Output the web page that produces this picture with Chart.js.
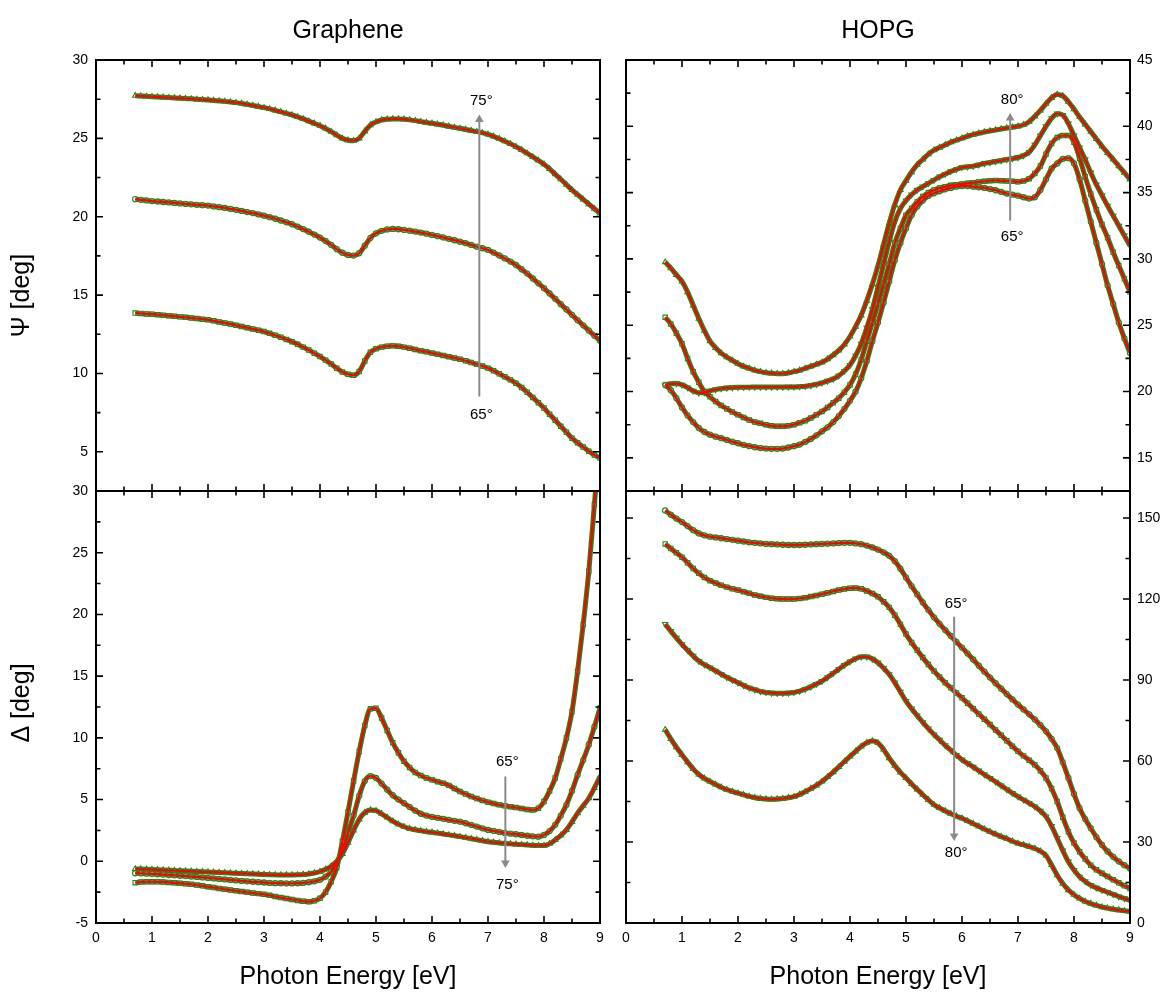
<!DOCTYPE html>
<html><head><meta charset="utf-8">
<script src="https://cdn.jsdelivr.net/npm/chart.js@4.4.1/dist/chart.umd.min.js"></script>
<style>
html,body{margin:0;padding:0;background:#fff;}
#wrap{position:relative;width:1168px;height:994px;overflow:hidden;}
#wrap canvas{position:absolute;left:0;top:0;}
</style></head><body>
<div id="wrap">
<canvas id="cGpsi" width="1168" height="994"></canvas>
<canvas id="cGdel" width="1168" height="994"></canvas>
<canvas id="cHpsi" width="1168" height="994"></canvas>
<canvas id="cHdel" width="1168" height="994"></canvas>
</div>
<script>
// ---------- data ----------
const energy = [0.7,0.8,0.9,1.0,1.1,1.2,1.3,1.4,1.5,1.6,
 1.7,1.8,1.9,2.0,2.1,2.2,2.3,2.4,2.5,2.6,
 2.7,2.8,2.9,3.0,3.1,3.2,3.3,3.4,3.5,3.6,
 3.7,3.8,3.9,4.0,4.1,4.2,4.3,4.4,4.5,4.6,
 4.7,4.8,4.9,5.0,5.1,5.2,5.3,5.4,5.5,5.6,
 5.7,5.8,5.9,6.0,6.1,6.2,6.3,6.4,6.5,6.6,
 6.7,6.8,6.9,7.0,7.1,7.2,7.3,7.4,7.5,7.6,
 7.7,7.8,7.9,8.0,8.1,8.2,8.3,8.4,8.5,8.6,
 8.7,8.8,8.9,9.0];

// Graphene Psi
const psiG75 = [27.72,27.70,27.68,27.66,27.64,27.62,27.60,27.58,27.56,27.54,
 27.52,27.49,27.47,27.45,27.42,27.39,27.36,27.32,27.28,27.23,
 27.17,27.10,27.03,26.96,26.88,26.79,26.69,26.59,26.49,26.37,
 26.24,26.10,25.96,25.81,25.63,25.43,25.20,25.00,24.88,24.85,
 25.00,25.45,25.85,26.05,26.17,26.22,26.24,26.24,26.22,26.18,
 26.13,26.07,26.01,25.96,25.90,25.84,25.77,25.70,25.64,25.57,
 25.50,25.43,25.35,25.26,25.13,24.98,24.82,24.65,24.47,24.27,
 24.05,23.82,23.59,23.35,23.05,22.72,22.39,22.05,21.71,21.41,
 21.11,20.81,20.51,20.22];
const psiG70 = [21.12,21.08,21.04,21.00,20.97,20.94,20.91,20.88,20.85,20.82,
 20.79,20.76,20.74,20.71,20.66,20.61,20.56,20.50,20.44,20.37,
 20.30,20.23,20.15,20.07,19.97,19.87,19.76,19.64,19.52,19.37,
 19.21,19.04,18.86,18.67,18.45,18.20,17.93,17.70,17.56,17.52,
 17.67,18.15,18.65,18.94,19.10,19.19,19.22,19.20,19.16,19.11,
 19.05,18.99,18.92,18.84,18.76,18.68,18.59,18.50,18.41,18.31,
 18.20,18.09,17.99,17.88,17.71,17.53,17.34,17.14,16.92,16.65,
 16.37,16.06,15.75,15.44,15.10,14.76,14.42,14.08,13.74,13.40,
 13.07,12.74,12.41,12.08];
const psiG65 = [13.85,13.83,13.80,13.78,13.75,13.72,13.68,13.65,13.61,13.58,
 13.54,13.50,13.46,13.42,13.36,13.29,13.22,13.15,13.07,12.99,
 12.92,12.84,12.76,12.67,12.56,12.44,12.31,12.17,12.03,11.86,
 11.68,11.49,11.29,11.08,10.85,10.60,10.33,10.10,9.95,9.88,
 10.12,10.80,11.35,11.57,11.68,11.74,11.76,11.73,11.68,11.61,
 11.53,11.45,11.38,11.30,11.22,11.15,11.07,10.99,10.91,10.81,
 10.70,10.59,10.47,10.34,10.17,9.98,9.79,9.59,9.38,9.10,
 8.80,8.47,8.13,7.79,7.40,7.02,6.63,6.25,5.87,5.58,
 5.30,5.04,4.80,4.60];

// Graphene Delta
const delG65 = [-1.73,-1.68,-1.65,-1.65,-1.66,-1.68,-1.71,-1.74,-1.78,-1.82,
 -1.87,-1.93,-1.99,-2.06,-2.13,-2.20,-2.27,-2.33,-2.39,-2.45,
 -2.51,-2.57,-2.62,-2.68,-2.76,-2.85,-2.94,-3.02,-3.09,-3.17,
 -3.23,-3.27,-3.20,-3.00,-2.50,-1.65,-0.50,1.60,4.00,6.50,
 8.90,11.00,12.35,12.40,11.60,10.60,9.60,8.80,8.10,7.60,
 7.20,6.95,6.75,6.60,6.45,6.33,6.15,5.90,5.65,5.45,
 5.25,5.08,4.93,4.79,4.68,4.58,4.50,4.42,4.35,4.28,
 4.20,4.16,4.30,4.84,5.70,6.74,8.30,9.98,12.14,15.39,
 19.18,23.50,28.90,34.50];
const delG70 = [-0.97,-0.98,-1.00,-1.02,-1.05,-1.08,-1.11,-1.14,-1.17,-1.20,
 -1.24,-1.27,-1.31,-1.35,-1.39,-1.43,-1.47,-1.51,-1.55,-1.59,
 -1.62,-1.66,-1.69,-1.72,-1.75,-1.77,-1.78,-1.79,-1.79,-1.78,
 -1.75,-1.70,-1.62,-1.50,-1.25,-0.85,-0.15,0.90,2.30,3.70,
 5.30,6.50,6.90,6.75,6.30,5.80,5.35,5.00,4.70,4.40,
 4.10,3.85,3.70,3.60,3.52,3.44,3.36,3.28,3.21,3.08,
 2.95,2.81,2.67,2.54,2.46,2.38,2.30,2.24,2.19,2.13,
 2.07,2.02,1.99,2.13,2.45,2.95,3.70,4.57,5.70,7.00,
 8.20,9.44,10.90,12.42];
const delG75 = [-0.62,-0.63,-0.65,-0.67,-0.69,-0.71,-0.73,-0.75,-0.77,-0.79,
 -0.81,-0.83,-0.85,-0.87,-0.89,-0.91,-0.93,-0.95,-0.97,-0.99,
 -1.01,-1.03,-1.05,-1.07,-1.09,-1.10,-1.11,-1.11,-1.11,-1.10,
 -1.07,-1.03,-0.95,-0.84,-0.65,-0.40,0.00,0.60,1.50,2.50,
 3.40,3.95,4.15,4.10,3.85,3.55,3.25,3.00,2.80,2.65,
 2.55,2.47,2.40,2.35,2.28,2.21,2.14,2.07,2.00,1.92,
 1.83,1.75,1.67,1.59,1.54,1.49,1.45,1.41,1.38,1.35,
 1.32,1.29,1.27,1.27,1.42,1.73,2.10,2.54,3.20,3.90,
 4.50,5.11,5.95,6.87];

// HOPG Psi
const psiH80 = [29.76,29.30,28.80,28.30,27.50,26.50,25.50,24.60,23.80,23.30,
 22.90,22.60,22.35,22.10,21.90,21.75,21.60,21.50,21.42,21.38,
 21.35,21.35,21.40,21.50,21.60,21.75,21.90,22.05,22.20,22.45,
 22.75,23.10,23.55,24.15,24.90,25.75,26.85,28.10,29.50,31.10,
 32.70,34.10,35.20,35.90,36.55,37.10,37.50,37.90,38.20,38.40,
 38.60,38.80,38.95,39.10,39.25,39.37,39.48,39.57,39.65,39.72,
 39.80,39.87,39.93,40.00,40.12,40.35,40.75,41.20,41.70,42.15,
 42.40,42.30,41.85,41.30,40.70,40.15,39.60,39.05,38.50,38.00,
 37.50,37.00,36.50,36.00];
const psiH75 = [20.50,20.58,20.60,20.50,20.30,20.05,19.90,19.92,20.05,20.15,
 20.22,20.27,20.30,20.32,20.33,20.33,20.34,20.34,20.34,20.34,
 20.34,20.34,20.35,20.35,20.37,20.40,20.46,20.55,20.65,20.80,
 20.95,21.20,21.55,22.00,22.70,23.60,24.80,26.20,27.90,29.60,
 31.30,32.80,33.80,34.40,34.85,35.20,35.45,35.70,35.95,36.20,
 36.40,36.60,36.75,36.90,36.95,37.00,37.10,37.20,37.27,37.35,
 37.42,37.50,37.57,37.65,37.80,38.05,38.60,39.30,40.00,40.60,
 40.95,40.85,40.20,39.30,38.40,37.50,36.50,35.60,34.80,34.00,
 33.25,32.50,31.75,31.00];
const psiH70 = [25.60,25.10,24.40,23.60,22.50,21.50,20.70,20.00,19.60,19.25,
 18.95,18.70,18.45,18.25,18.05,17.85,17.70,17.60,17.50,17.42,
 17.38,17.38,17.42,17.50,17.65,17.80,18.00,18.25,18.50,18.80,
 19.15,19.50,19.95,20.50,21.30,22.40,23.80,25.20,26.60,28.10,
 29.60,31.20,32.30,33.30,33.80,34.30,34.70,35.00,35.20,35.35,
 35.45,35.55,35.60,35.65,35.70,35.75,35.80,35.85,35.90,35.92,
 35.90,35.88,35.85,35.82,35.88,36.05,36.45,37.00,37.90,38.70,
 39.15,39.30,39.30,38.80,37.60,36.20,34.90,33.70,32.60,31.60,
 30.50,29.50,28.50,27.50];
const psiH65 = [20.50,20.10,19.50,18.80,18.20,17.70,17.25,16.95,16.75,16.60,
 16.48,16.35,16.22,16.10,15.98,15.88,15.80,15.74,15.70,15.68,
 15.68,15.70,15.78,15.88,16.00,16.20,16.42,16.70,17.00,17.30,
 17.70,18.15,18.70,19.30,20.00,21.00,22.30,23.80,25.20,26.70,
 28.30,29.90,31.20,32.30,33.30,33.95,34.40,34.75,34.95,35.10,
 35.25,35.35,35.45,35.50,35.50,35.45,35.40,35.35,35.27,35.18,
 35.05,34.93,34.85,34.77,34.65,34.55,34.65,35.20,36.00,36.80,
 37.20,37.55,37.60,37.20,36.00,34.40,32.80,31.20,29.60,28.00,
 26.60,25.20,24.00,22.90];

// HOPG Delta
const delH65 = [152.8,151.2,149.8,148.5,147.0,145.5,144.3,143.6,143.1,142.8,
 142.5,142.2,141.9,141.6,141.3,141.0,140.8,140.6,140.4,140.3,
 140.2,140.1,140.0,140.0,140.0,140.1,140.2,140.3,140.4,140.5,
 140.6,140.7,140.8,140.8,140.6,140.3,139.8,139.1,138.3,137.3,
 136.0,134.0,131.2,128.0,124.8,121.7,118.7,115.9,113.2,110.8,
 108.5,106.3,104.1,102.0,99.8,97.6,95.3,93.1,90.9,88.8,
 86.8,84.8,82.8,80.9,79.1,77.3,75.4,73.3,71.0,68.2,
 64.8,59.5,53.7,47.8,42.5,38.5,35.1,31.8,28.9,26.5,
 24.5,22.8,21.4,20.2];
const delH70 = [140.4,138.7,137.1,135.5,133.4,131.3,129.5,128.0,126.8,125.9,
 125.1,124.4,123.8,123.3,122.7,122.1,121.5,121.0,120.6,120.3,
 120.1,120.0,120.0,120.0,120.2,120.5,120.9,121.3,121.8,122.3,
 122.8,123.3,123.7,124.0,124.1,123.8,123.0,122.0,120.8,119.0,
 116.9,114.0,110.6,107.0,103.9,101.0,98.3,95.7,93.3,91.1,
 89.0,87.1,85.2,83.4,81.4,79.4,77.4,75.5,73.5,71.5,
 69.5,67.5,65.5,63.6,61.9,60.3,58.6,56.4,53.7,49.8,
 45.0,39.2,33.8,29.6,26.4,23.7,21.4,19.7,18.4,17.2,
 16.0,14.9,13.8,12.8];
const delH75 = [110.7,108.1,105.6,103.2,101.0,98.9,97.0,95.7,94.6,93.4,
 92.2,91.0,90.0,89.0,88.0,87.1,86.4,85.8,85.4,85.2,
 85.1,85.1,85.2,85.4,85.9,86.6,87.5,88.5,89.6,91.0,
 92.5,94.0,95.5,96.8,97.9,98.6,98.6,97.8,96.4,94.4,
 92.1,89.0,85.6,82.2,79.4,76.8,74.3,72.0,69.8,67.8,
 65.8,64.0,62.2,60.5,59.1,57.8,56.4,55.0,53.7,52.3,
 50.9,49.5,48.1,46.8,45.6,44.4,43.1,41.5,39.4,35.9,
 31.4,26.8,22.7,19.6,17.1,15.4,14.0,13.0,12.2,11.4,
 10.6,9.8,9.1,8.4];
const delH80 = [71.6,68.2,65.1,62.3,59.6,57.1,55.0,53.6,52.4,51.3,
 50.3,49.4,48.7,48.1,47.5,46.9,46.4,46.1,45.9,45.8,
 45.9,46.1,46.4,46.8,47.6,48.6,49.8,51.0,52.4,54.1,
 55.9,57.8,59.8,61.7,63.6,65.4,66.8,67.4,66.7,64.3,
 61.1,58.3,55.8,53.7,51.5,49.5,47.5,45.6,43.8,42.6,
 41.5,40.5,39.6,38.8,37.8,36.8,35.8,34.8,33.8,32.9,
 32.0,31.2,30.3,29.5,28.9,28.3,27.6,26.6,25.0,21.5,
 17.7,14.6,12.2,10.5,9.1,8.0,7.2,6.5,5.9,5.5,
 5.1,4.8,4.5,4.3];

// tick labels
const xTickLabels = [0,1,2,3,4,5,6,7,8,9];
const psiGTickLabels = [5,10,15,20,25,30];
const delGTickLabels = [-5,0,5,10,15,20,25,30];
const psiHTickLabels = [15,20,25,30,35,40,45];
const delHTickLabels = [0,30,60,90,120,150];

// angle arrows (energy, from, to) and their labels
const psiGArrow = {x: 6.845, from: 8.53, to: 26.2, top: '75°', bottom: '65°', topY: 27.39, bottomY: 7.36};
const delGArrow = {x: 7.31, from: 6.87, to: -0.14, top: '65°', bottom: '75°', topY: 8.04, bottomY: -1.87};
const psiHArrow = {x: 6.86, from: 32.89, to: 40.62, top: '80°', bottom: '65°', topY: 41.97, bottomY: 31.64};
const delHArrow = {x: 5.86, from: 113.4, to: 32.2, top: '65°', bottom: '80°', topY: 118.1, bottomY: 25.8};

// ---------- drawing ----------
const RED = '#ff0000', GREEN = '#1b8a1b', GRAY = '#8a8a8a';
const FONT = "'Liberation Sans', Arial, Helvetica, sans-serif";
Chart.defaults.font.family = FONT;
Chart.defaults.color = '#000';

const near = (list, v) => list.some(l => Math.abs(l - v) < 1e-6);
const isMult = (v, s) => Math.abs(v / s - Math.round(v / s)) < 1e-6;

function makePanel(id, p) {
  const xy = vals => energy.map((e, i) => ({x: e, y: vals[i]}));
  const ds = [];
  p.series.forEach(s => ds.push({
    label: s.label + ' fit', data: xy(s.values), borderColor: RED, borderWidth: 2.3,
    pointRadius: 0, pointHoverRadius: 0, cubicInterpolationMode: 'monotone', fill: false, order: 1
  }));
  p.series.forEach(s => ds.push({
    label: s.label + ' measured', data: xy(s.values), showLine: true, borderColor: GREEN, borderWidth: 5,
    cubicInterpolationMode: 'monotone', fill: false,
    pointStyle: s.marker, pointRotation: s.rotation || 0,
    pointRadius: s.marker === 'circle' ? 2.6 : 3.1, pointBorderWidth: 1.1,
    pointBorderColor: GREEN, pointBackgroundColor: 'rgba(255,255,255,0.35)', order: 2
  }));
  const a = p.arrow;
  ds.push({
    label: 'angle arrow', data: [{x: a.x, y: a.from}, {x: a.x, y: a.to}],
    borderColor: GRAY, borderWidth: 2, pointRadius: [0, 5], pointStyle: 'triangle',
    pointRotation: a.to > a.from ? 0 : 180, pointBackgroundColor: GRAY, pointBorderColor: GRAY,
    pointBorderWidth: 0, order: 0
  });

  const frame = {
    id: 'frame' + id,
    afterDatasetsDraw(chart) {
      const {ctx, chartArea: c} = chart;
      const xs = chart.scales.x, ys = chart.scales.y;
      ctx.save();
      ctx.strokeStyle = '#000';
      ctx.lineWidth = 1.6;
      xs.ticks.forEach(t => {
        if (!isMult(t.value, 0.5)) return;
        const len = isMult(t.value, 1) ? 7 : 4.5;
        const px = xs.getPixelForValue(t.value);
        ctx.beginPath();
        ctx.moveTo(px, c.bottom); ctx.lineTo(px, c.bottom - len);
        ctx.moveTo(px, c.top); ctx.lineTo(px, c.top + len);
        ctx.stroke();
      });
      ys.ticks.forEach(t => {
        if (!isMult(t.value, p.yStep)) return;
        const len = isMult(t.value, p.yMajor) ? 7 : 4.5;
        const py = ys.getPixelForValue(t.value);
        ctx.beginPath();
        ctx.moveTo(c.left, py); ctx.lineTo(c.left + len, py);
        ctx.moveTo(c.right, py); ctx.lineTo(c.right - len, py);
        ctx.stroke();
      });
      ctx.lineWidth = 2;
      ctx.strokeRect(c.left, c.top, c.right - c.left, c.bottom - c.top);
      ctx.restore();
    }
  };
  const texts = {
    id: 'texts' + id,
    afterDraw(chart) {
      const {ctx, chartArea: c} = chart;
      const xs = chart.scales.x, ys = chart.scales.y;
      ctx.save();
      ctx.fillStyle = '#000';
      ctx.textAlign = 'center';
      ctx.font = '15px ' + FONT;
      ctx.textBaseline = 'middle';
      const lx = xs.getPixelForValue(a.x) + 2;
      ctx.fillText(a.top, lx, ys.getPixelForValue(a.topY));
      ctx.fillText(a.bottom, lx, ys.getPixelForValue(a.bottomY));
      if (p.title) {
        ctx.font = '25px ' + FONT;
        ctx.textBaseline = 'alphabetic';
        ctx.fillText(p.title, (c.left + c.right) / 2, 37.5);
      }
      if (p.ytitle) {
        ctx.font = '25px ' + FONT;
        ctx.textBaseline = 'middle';
        ctx.translate(22, (c.top + c.bottom) / 2 + p.ytitleShift);
        ctx.rotate(-Math.PI / 2);
        ctx.fillText(p.ytitle, 0, 0);
      }
      ctx.restore();
    }
  };

  return new Chart(document.getElementById(id), {
    type: 'line',
    data: {datasets: ds},
    options: {
      responsive: false, animation: false, devicePixelRatio: 1, events: [],
      layout: {padding: p.pad},
      plugins: {legend: {display: false}, tooltip: {enabled: false}, title: {display: false}},
      scales: {
        x: {
          type: 'linear', min: 0, max: 9,
          afterFit: s => { s.height = p.bottomAxis ? 71 : 0; },
          ticks: {display: !!p.bottomAxis, stepSize: 0.5, autoSkip: false, maxRotation: 0, padding: 7,
            font: {size: 14}, callback: v => near(xTickLabels, v) ? String(v) : ''},
          grid: {display: false, drawTicks: false}, border: {display: false},
          title: {display: !!p.bottomAxis, text: 'Photon Energy [eV]', font: {size: 25}, padding: {top: 0, bottom: 2}}
        },
        y: {
          type: 'linear', position: p.side, min: p.min, max: p.max,
          afterFit: s => { s.width = p.side === 'left' ? 96 : 38; },
          ticks: {stepSize: p.yStep, autoSkip: false, padding: p.side === 'left' ? 8 : 7,
            font: {size: 14}, callback: v => near(p.labels, v) ? String(v) : ''},
          grid: {display: false, drawTicks: false}, border: {display: false}
        }
      }
    },
    plugins: [frame, texts]
  });
}

makePanel('cGpsi', {
  title: 'Graphene', ytitle: 'Ψ [deg]', ytitleShift: 20, side: 'left', min: 2.5, max: 30, yStep: 2.5, yMajor: 5,
  labels: psiGTickLabels, pad: {left: 0, top: 60, right: 568, bottom: 503}, bottomAxis: false,
  series: [{label: '65°', values: psiG65, marker: 'rect'}, {label: '70°', values: psiG70, marker: 'circle'},
           {label: '75°', values: psiG75, marker: 'triangle'}],
  arrow: psiGArrow
});
makePanel('cGdel', {
  ytitle: 'Δ [deg]', ytitleShift: -4, side: 'left', min: -5, max: 30, yStep: 2.5, yMajor: 5,
  labels: delGTickLabels, pad: {left: 0, top: 491, right: 568, bottom: 0}, bottomAxis: true,
  series: [{label: '65°', values: delG65, marker: 'rect'}, {label: '70°', values: delG70, marker: 'circle'},
           {label: '75°', values: delG75, marker: 'triangle'}],
  arrow: delGArrow
});
makePanel('cHpsi', {
  title: 'HOPG', side: 'right', min: 12.5, max: 45, yStep: 2.5, yMajor: 5,
  labels: psiHTickLabels, pad: {left: 626, top: 60, right: 0, bottom: 503}, bottomAxis: false,
  series: [{label: '65°', values: psiH65, marker: 'circle'}, {label: '70°', values: psiH70, marker: 'rect'},
           {label: '75°', values: psiH75, marker: 'triangle', rotation: 180}, {label: '80°', values: psiH80, marker: 'triangle'}],
  arrow: psiHArrow
});
makePanel('cHdel', {
  side: 'right', min: 0, max: 160, yStep: 15, yMajor: 30,
  labels: delHTickLabels, pad: {left: 626, top: 491, right: 0, bottom: 0}, bottomAxis: true,
  series: [{label: '65°', values: delH65, marker: 'circle'}, {label: '70°', values: delH70, marker: 'rect'},
           {label: '75°', values: delH75, marker: 'triangle', rotation: 180}, {label: '80°', values: delH80, marker: 'triangle'}],
  arrow: delHArrow
});
</script>
</body></html>
